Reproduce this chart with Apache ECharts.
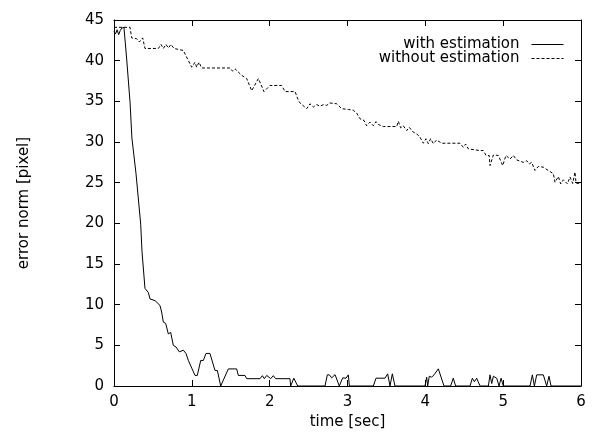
<!DOCTYPE html>
<html>
<head>
<meta charset="utf-8">
<script src="https://cdn.jsdelivr.net/npm/echarts@6/dist/echarts.min.js"></script>
<style>
html,body{margin:0;padding:0;background:#fff;}
#chart{width:597px;height:437px;}
</style>
</head>
<body>
<div id="chart"></div>
<script>
// ---- data ----
const seriesNames = ['with estimation', 'without estimation'];
const xTicks = [0, 1, 2, 3, 4, 5, 6];
const yTicks = [0, 5, 10, 15, 20, 25, 30, 35, 40, 45];

const withTime = [0, 0.02, 0.04, 0.06, 0.08, 0.10, 0.128, 0.141, 0.163, 0.206, 0.23, 0.283, 0.343, 0.36, 0.398, 0.441, 0.463, 0.527, 0.591, 0.612, 0.634, 0.664, 0.698, 0.728, 0.762, 0.796, 0.839, 0.891, 0.925, 0.955, 1.041, 1.07, 1.114, 1.148, 1.182, 1.233, 1.298, 1.328, 1.371, 1.396, 1.469, 1.576, 1.597, 1.683, 1.705, 1.876, 1.906, 1.932, 1.962, 1.983, 2.013, 2.047, 2.077, 2.261, 2.27, 2.31, 2.36, 2.711, 2.741, 2.767, 2.797, 2.84, 2.895, 2.938, 2.981, 3.011, 3.024, 3.332, 3.366, 3.482, 3.516, 3.546, 3.576, 3.61, 3.996, 4.017, 4.03, 4.051, 4.081, 4.111, 4.167, 4.24, 4.325, 4.359, 4.389, 4.574, 4.604, 4.63, 4.659, 4.703, 4.81, 4.831, 4.853, 4.874, 4.917, 4.947, 4.973, 5.003, 5.345, 5.375, 5.401, 5.431, 5.516, 5.559, 5.589, 5.615, 6.0];
const withValue = [43.6, 43.3, 43.8, 43.2, 43.7, 44.0, 44.1, 43.9, 40.2, 34.9, 30.5, 26.1, 19.9, 16.5, 12.0, 11.5, 10.7, 10.5, 9.9, 9.1, 7.85, 7.7, 6.4, 6.6, 5.0, 4.8, 4.2, 4.4, 4.0, 3.14, 1.3, 1.3, 3.14, 3.14, 4.0, 4.0, 1.9, 1.9, 0, 0, 2.1, 2.1, 1.3, 1.3, 0.9, 0.9, 1.27, 0.9, 1.3, 1.3, 0.9, 1.27, 0.9, 0.9, 0, 0.96, 0, 0, 1.37, 1.37, 1.0, 1.4, 0, 1.0, 0.96, 1.37, 0, 0, 0.96, 0.96, 1.5, 0, 1.5, 0, 0, 1.08, 0, 1.2, 1.08, 1.37, 2.11, 0, 0, 0.96, 0, 0, 0.96, 0.53, 0.96, 0, 0, 1.37, 0.3, 1.2, 0.96, 0, 0.96, 0, 0, 1.37, 0, 1.37, 1.37, 0, 1.2, 0, 0];

const withoutTime = [0, 0.206, 0.227, 0.291, 0.326, 0.368, 0.398, 0.57, 0.604, 0.634, 0.668, 0.698, 0.732, 0.771, 0.891, 0.998, 1.04, 1.062, 1.092, 1.127, 1.49, 1.525, 1.555, 1.64, 1.705, 1.769, 1.855, 1.927, 2.004, 2.154, 2.197, 2.326, 2.37, 2.39, 2.476, 2.518, 2.561, 2.604, 2.647, 2.69, 2.733, 2.775, 2.861, 2.925, 3.011, 3.075, 3.118, 3.161, 3.212, 3.246, 3.289, 3.332, 3.366, 3.396, 3.46, 3.632, 3.653, 3.683, 3.717, 3.76, 3.794, 3.846, 3.889, 3.931, 3.974, 4.008, 4.038, 4.068, 4.103, 4.145, 4.21, 4.445, 4.488, 4.518, 4.553, 4.703, 4.745, 4.78, 4.82, 4.831, 4.874, 4.938, 4.994, 5.036, 5.088, 5.131, 5.173, 5.216, 5.259, 5.302, 5.336, 5.366, 5.409, 5.452, 5.516, 5.58, 5.645, 5.666, 5.709, 5.739, 5.773, 5.825, 5.859, 5.893, 5.923, 5.936, 5.966, 6.0];
const withoutValue = [44.1, 44.1, 42.8, 42.7, 42.3, 42.8, 41.5, 41.5, 42.0, 41.5, 42.0, 41.55, 42.0, 41.5, 41.25, 39.2, 39.8, 39.2, 39.8, 39.1, 39.1, 38.7, 39.0, 38.2, 37.8, 36.3, 37.8, 36.2, 36.95, 36.95, 36.2, 36.2, 35.1, 34.8, 34.1, 34.7, 34.3, 34.6, 34.4, 34.6, 34.5, 34.8, 34.7, 34.1, 34.0, 33.9, 33.55, 32.85, 32.65, 32.0, 32.45, 32.0, 32.5, 32.15, 31.9, 31.9, 32.55, 31.75, 32.0, 31.4, 31.8, 31.2, 31.0, 30.6, 29.85, 30.4, 29.8, 30.4, 29.8, 30.25, 29.85, 29.85, 29.35, 29.75, 29.15, 28.95, 28.95, 28.35, 28.35, 27.1, 28.4, 28.35, 27.1, 28.35, 27.9, 28.35, 27.8, 27.65, 27.5, 27.7, 27.3, 27.5, 26.5, 27.0, 26.9, 26.5, 26.1, 25.05, 25.75, 24.85, 25.35, 24.85, 25.7, 24.9, 26.3, 24.95, 24.9, 24.9];

// ---- chart ----
const FONT = 'DejaVu Sans';
const withData = withTime.map((t, i) => [t, withValue[i]]);
const withoutData = withoutTime.map((t, i) => [t, withoutValue[i]]);

const xMin = xTicks[0], xMax = xTicks[xTicks.length - 1];
const yMin = yTicks[0], yMax = yTicks[yTicks.length - 1];

const chart = echarts.init(document.getElementById('chart'), null, {renderer: 'canvas'});

const axisLineStyle = {show: true, onZero: false, lineStyle: {color: '#000', width: 1}};
const tickStyle = {show: true, inside: true, length: 6, lineStyle: {color: '#000', width: 1}};

const legendCommon = {
  orient: 'horizontal',
  align: 'right',
  right: 33,
  itemWidth: 32,
  itemHeight: 10,
  selectedMode: false,
  padding: 0,
  itemStyle: {opacity: 0},
  textStyle: {fontFamily: FONT, fontSize: 15, color: '#000', padding: [0, 7, 0, 0]}
};

chart.setOption({
  animation: false,
  backgroundColor: '#fff',
  grid: {left: 114, right: 16, top: 20, bottom: 51, containLabel: false},
  legend: [
    Object.assign({}, legendCommon, {top: 37, data: [seriesNames[0]],
      lineStyle: {width: 1, color: '#000', type: 'solid'}}),
    Object.assign({}, legendCommon, {top: 51, data: [seriesNames[1]],
      lineStyle: {width: 1, color: '#000', type: [3, 2]}})
  ],
  xAxis: [
    {
      type: 'value', position: 'bottom', min: xMin, max: xMax, interval: 1,
      name: 'time [sec]', nameLocation: 'middle', nameGap: 29,
      nameTextStyle: {fontFamily: FONT, fontSize: 15, color: '#000'},
      axisLine: axisLineStyle, axisTick: tickStyle,
      axisLabel: {fontFamily: FONT, fontSize: 15, color: '#000', margin: 9},
      splitLine: {show: false}
    },
    {
      type: 'value', position: 'top', min: xMin, max: xMax, interval: 1,
      axisLine: axisLineStyle, axisTick: tickStyle,
      axisLabel: {show: false}, splitLine: {show: false}
    }
  ],
  yAxis: [
    {
      type: 'value', position: 'left', min: yMin, max: yMax, interval: 5,
      name: 'error norm [pixel]', nameLocation: 'middle', nameGap: 82,
      nameTextStyle: {fontFamily: FONT, fontSize: 15, color: '#000'},
      axisLine: axisLineStyle, axisTick: tickStyle,
      axisLabel: {fontFamily: FONT, fontSize: 15, color: '#000', margin: 10},
      splitLine: {show: false}
    },
    {
      type: 'value', position: 'right', min: yMin, max: yMax, interval: 5,
      axisLine: axisLineStyle, axisTick: tickStyle,
      axisLabel: {show: false}, splitLine: {show: false}
    }
  ],
  series: [
    {
      name: seriesNames[0], type: 'line', data: withData,
      xAxisIndex: 0, yAxisIndex: 0,
      showSymbol: false, symbol: 'none',
      lineStyle: {color: '#000', width: 1, type: 'solid'},
      itemStyle: {color: '#000'}
    },
    {
      name: seriesNames[1], type: 'line', data: withoutData,
      xAxisIndex: 0, yAxisIndex: 0,
      showSymbol: false, symbol: 'none',
      lineStyle: {color: '#000', width: 1, type: [3, 2]},
      itemStyle: {color: '#000'}
    }
  ]
});
</script>
</body>
</html>
